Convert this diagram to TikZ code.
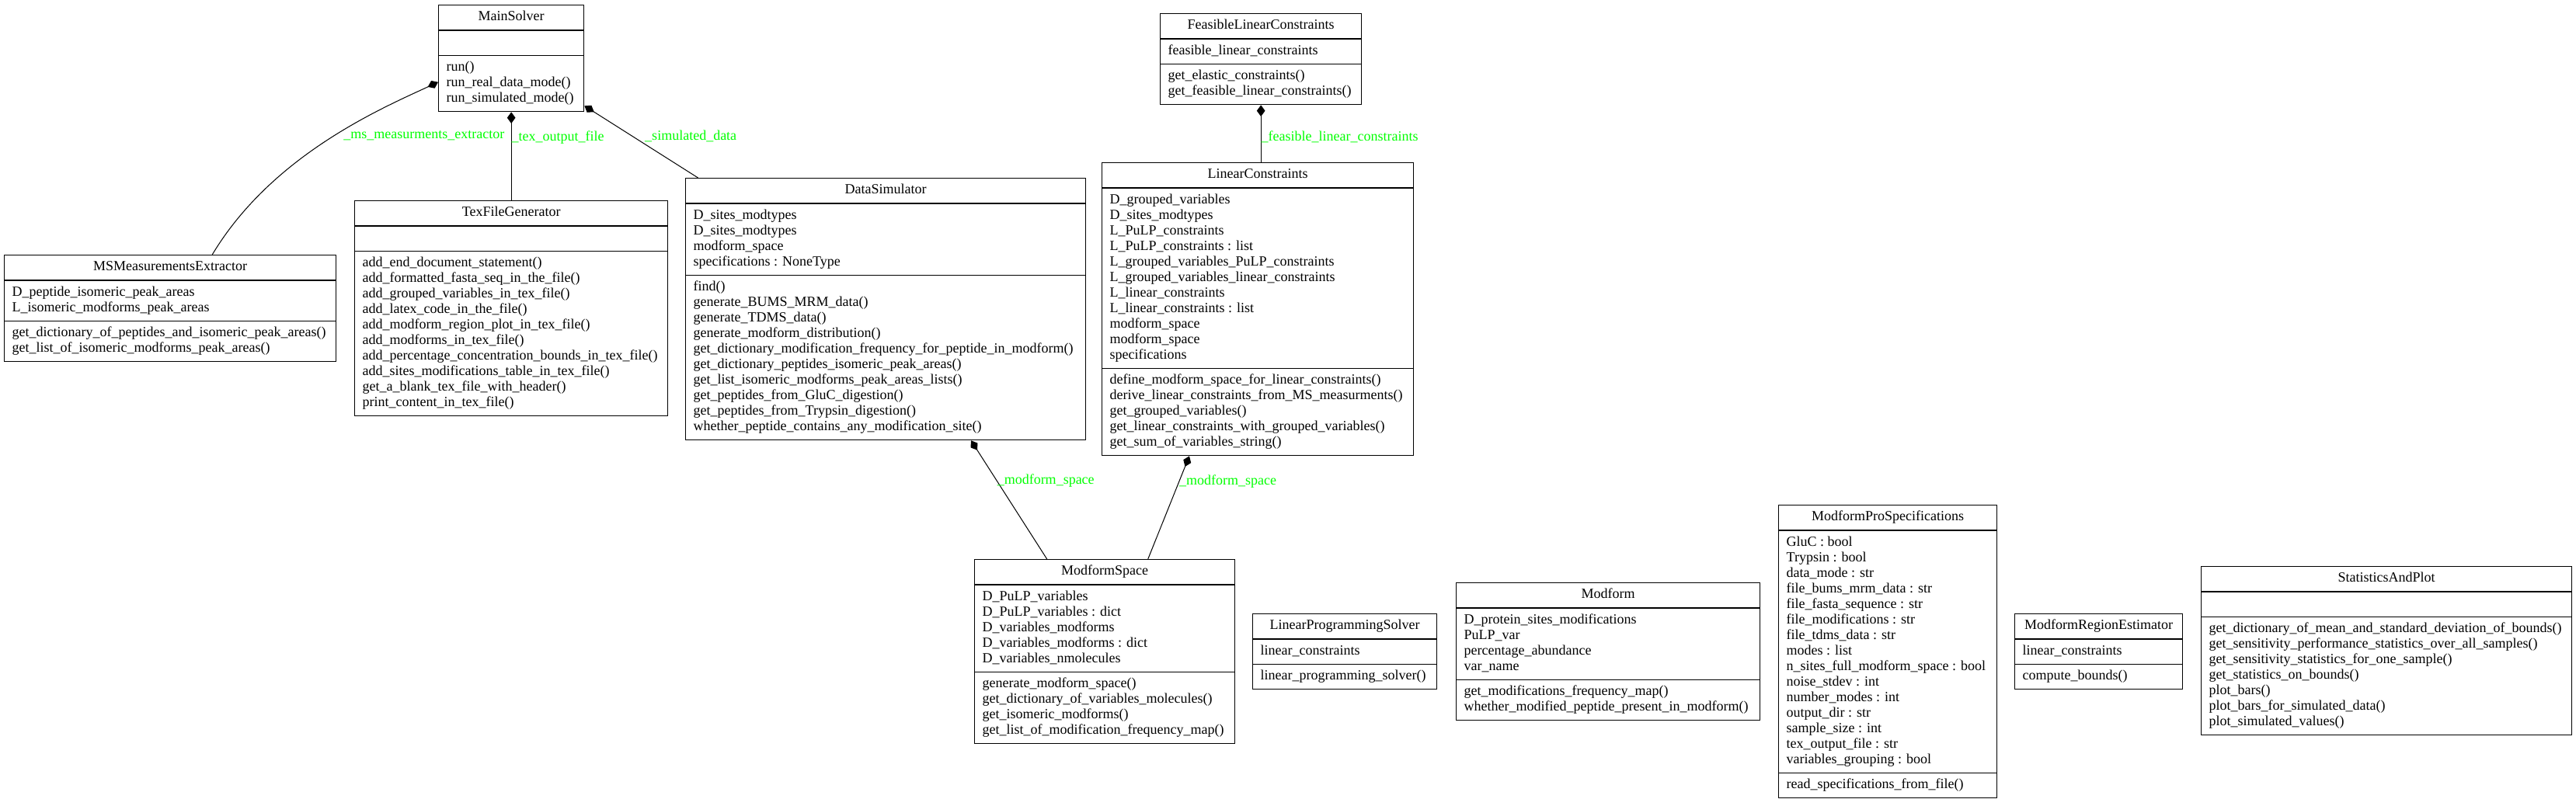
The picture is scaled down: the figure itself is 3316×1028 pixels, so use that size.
\documentclass[tikz,border=0pt]{standalone}
\usepackage{fontspec}
\setmainfont{Liberation Serif}
\usetikzlibrary{shapes.multipart,arrows.meta}
\definecolor{labelgreen}{RGB}{0,255,0}
\begin{document}
\begin{tikzpicture}[x=.75pt,y=-.75pt,
 umlclass/.style={draw,line width=1pt,rectangle split,rectangle split parts=3,
  rectangle split part align={center,left,left},align=left,anchor=north west,
  inner xsep=7.5pt,inner ysep=4.125pt,font=\fontsize{13.5}{15}\selectfont},
 boxw/.style={minimum width=#1*.75pt},
 comp/.style={{Diamond[length=11pt,width=8pt]}-,line width=.75pt},
 lbl/.style={text=labelgreen,font=\fontsize{13.5}{15}\selectfont,inner sep=0pt,anchor=west},
 ]
 \useasboundingbox (0,0) rectangle (3316,1028);
 % <<< row 1
 \node[umlclass,boxw=187] (MainSolver) at (564,6) {\strut MainSolver
  \nodepart{two}\strut
  \nodepart{three}\strut run()\\run\_real\_data\_mode()\\run\_simulated\_mode()\strut};
 \node[umlclass,boxw=259] (FeasCons) at (1493,17) {\strut FeasibleLinearConstraints
  \nodepart{two}\strut feasible\_linear\_constraints
  \nodepart{three}\strut get\_elastic\_constraints()\\get\_feasible\_linear\_constraints()\strut};
 % <<< row 2
 \node[umlclass,boxw=427] (MSExtractor) at (5,328) {\strut MSMeasurementsExtractor
  \nodepart{two}\strut D\_peptide\_isomeric\_peak\_areas\\L\_isomeric\_modforms\_peak\_areas\strut
  \nodepart{three}\strut get\_dictionary\_of\_peptides\_and\_isomeric\_peak\_areas()\\
  get\_list\_of\_isomeric\_modforms\_peak\_areas()\strut};
 \node[umlclass,boxw=403] (TexGen) at (456,258) {\strut TexFileGenerator
  \nodepart{two}\strut
  \nodepart{three}\strut add\_end\_document\_statement()\\
  add\_formatted\_fasta\_seq\_in\_the\_file()\\
  add\_grouped\_variables\_in\_tex\_file()\\
  add\_latex\_code\_in\_the\_file()\\
  add\_modform\_region\_plot\_in\_tex\_file()\\
  add\_modforms\_in\_tex\_file()\\
  add\_percentage\_concentration\_bounds\_in\_tex\_file()\\
  add\_sites\_modifications\_table\_in\_tex\_file()\\
  get\_a\_blank\_tex\_file\_with\_header()\\
  print\_content\_in\_tex\_file()\strut};
 \node[umlclass,boxw=515] (DataSim) at (882,229) {\strut DataSimulator
  \nodepart{two}\strut D\_sites\_modtypes\\D\_sites\_modtypes\\modform\_space\\
  specifications : NoneType\strut
  \nodepart{three}\strut find()\\
  generate\_BUMS\_MRM\_data()\\
  generate\_TDMS\_data()\\
  generate\_modform\_distribution()\\
  get\_dictionary\_modification\_frequency\_for\_peptide\_in\_modform()\\
  get\_dictionary\_peptides\_isomeric\_peak\_areas()\\
  get\_list\_isomeric\_modforms\_peak\_areas\_lists()\\
  get\_peptides\_from\_GluC\_digestion()\\
  get\_peptides\_from\_Trypsin\_digestion()\\
  whether\_peptide\_contains\_any\_modification\_site()\strut};
 \node[umlclass,boxw=401] (LinCons) at (1418,209) {\strut LinearConstraints
  \nodepart{two}\strut D\_grouped\_variables\\
  D\_sites\_modtypes\\
  L\_PuLP\_constraints\\
  L\_PuLP\_constraints : list\\
  L\_grouped\_variables\_PuLP\_constraints\\
  L\_grouped\_variables\_linear\_constraints\\
  L\_linear\_constraints\\
  L\_linear\_constraints : list\\
  modform\_space\\
  modform\_space\\
  specifications\strut
  \nodepart{three}\strut define\_modform\_space\_for\_linear\_constraints()\\
  derive\_linear\_constraints\_from\_MS\_measurments()\\
  get\_grouped\_variables()\\
  get\_linear\_constraints\_with\_grouped\_variables()\\
  get\_sum\_of\_variables\_string()\strut};
 % <<< row 3
 \node[umlclass,boxw=335] (ModSpace) at (1254,720) {\strut ModformSpace
  \nodepart{two}\strut D\_PuLP\_variables\\
  D\_PuLP\_variables : dict\\
  D\_variables\_modforms\\
  D\_variables\_modforms : dict\\
  D\_variables\_nmolecules\strut
  \nodepart{three}\strut generate\_modform\_space()\\
  get\_dictionary\_of\_variables\_molecules()\\
  get\_isomeric\_modforms()\\
  get\_list\_of\_modification\_frequency\_map()\strut};
 \node[umlclass,boxw=237] (LPSolver) at (1612,790) {\strut LinearProgrammingSolver
  \nodepart{two}\strut linear\_constraints
  \nodepart{three}\strut linear\_programming\_solver()\strut};
 \node[umlclass,boxw=391] (Modform) at (1874,750) {\strut Modform
  \nodepart{two}\strut D\_protein\_sites\_modifications\\
  PuLP\_var\\
  percentage\_abundance\\
  var\_name\strut
  \nodepart{three}\strut get\_modifications\_frequency\_map()\\
  whether\_modified\_peptide\_present\_in\_modform()\strut};
 \node[umlclass,boxw=281] (ModformSpec) at (2289,650) {\strut ModformProSpecifications
  \nodepart{two}\strut GluC : bool\\
  Trypsin : bool\\
  data\_mode : str\\
  file\_bums\_mrm\_data : str\\
  file\_fasta\_sequence : str\\
  file\_modifications : str\\
  file\_tdms\_data : str\\
  modes : list\\
  n\_sites\_full\_modform\_space : bool\\
  noise\_stdev : int\\
  number\_modes : int\\
  output\_dir : str\\
  sample\_size : int\\
  tex\_output\_file : str\\
  variables\_grouping : bool\strut
  \nodepart{three}\strut read\_specifications\_from\_file()\strut};
 \node[umlclass,boxw=216] (RegionEst) at (2593,790) {\strut ModformRegionEstimator
  \nodepart{two}\strut linear\_constraints
  \nodepart{three}\strut compute\_bounds()\strut};
 \node[umlclass,boxw=477] (StatPlot) at (2833,729) {\strut StatisticsAndPlot
  \nodepart{two}\strut
  \nodepart{three}\strut get\_dictionary\_of\_mean\_and\_standard\_deviation\_of\_bounds()\\
  get\_sensitivity\_performance\_statistics\_over\_all\_samples()\\
  get\_sensitivity\_statistics\_for\_one\_sample()\\
  get\_statistics\_on\_bounds()\\
  plot\_bars()\\
  plot\_bars\_for\_simulated\_data()\\
  plot\_simulated\_values()\strut};
 % <<< links
 \draw[comp] (MainSolver.198) .. controls (490,140) and (350,200) .. (MSExtractor.52)
  node[lbl,pos=.45,xshift=4.5pt,yshift=-2pt] {\_ms\_measurments\_extractor};
 \draw[comp] (MainSolver.south) -- (TexGen.north)
  node[lbl,pos=.29] {\_tex\_output\_file};
 \draw[comp] (MainSolver.327) -- (DataSim.145)
  node[lbl,pos=.42,xshift=12pt] {\_simulated\_data};
 \draw[comp] (FeasCons.south) -- (FeasCons.south |- LinCons.north)
  node[lbl,pos=.56] {\_feasible\_linear\_constraints};
 \draw[comp] (DataSim.303.4) -- (ModSpace.122.7)
  node[lbl,pos=.34] {\_modform\_space};
 \draw[comp] (LinCons.245.8) -- (ModSpace.65.6)
  node[lbl,pos=.25] {\_modform\_space};
\end{tikzpicture}
\end{document}
